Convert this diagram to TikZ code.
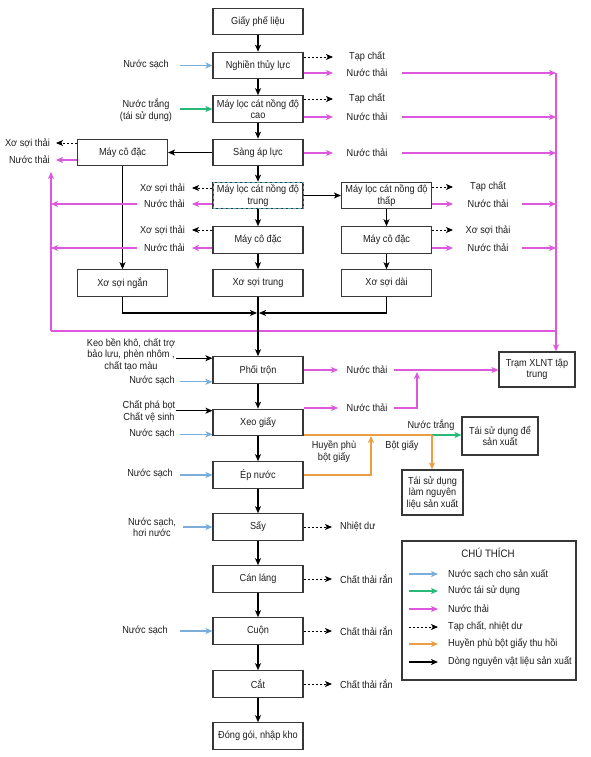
\documentclass[tikz,border=0pt]{standalone}
\usepackage{fontspec}
\setmainfont{Liberation Sans}[FakeStretch=0.9]
\usetikzlibrary{arrows.meta,calc}
\definecolor{cblue}{RGB}{122,174,216}
\definecolor{cgreen}{RGB}{40,185,120}
\definecolor{cpink}{RGB}{222,88,222}
\definecolor{corange}{RGB}{236,158,66}
\definecolor{cbox}{RGB}{55,55,55}
\definecolor{ctxt}{RGB}{30,30,30}
\definecolor{csel}{RGB}{80,170,190}
\begin{document}
\begin{tikzpicture}[x=1pt,y=-1pt,
 font=\fontsize{10.2}{11.5}\selectfont, text=ctxt,
 box/.style={draw=cbox,line width=1.1pt,minimum width=90pt,minimum height=26.5pt,align=center,inner sep=1pt},
 selbox/.style={postaction={draw=csel,densely dashed,line width=0.9pt}},
 lbl/.style={align=center,inner sep=1pt},
 tip/.style={-{Stealth[length=7pt,width=6pt,inset=1.8pt]}},
 blk/.style={tip,line width=1.1pt,black},
 bl/.style={tip,cblue,line width=1.1pt},
 gr/.style={tip,cgreen,line width=1.1pt},
 pk/.style={tip,cpink,line width=1.1pt},
 pkl/.style={cpink,line width=1.1pt},
 og/.style={corange,line width=1.2pt},
 ogt/.style={tip,corange,line width=1.2pt},
 dsh/.style={tip,black,dash pattern=on 2.2pt off 1.8pt,line width=0.9pt},
]
\useasboundingbox (0,0) rectangle (590,757);
\fill[white] (0,0) rectangle (590,757);

% ---------- main boxes ----------
\node[box] (g1) at (258,21.5) {Giấy phế liệu};
\node[box] (g2) at (258,65.5) {Nghiền thủy lực};
\node[box] (g3) at (258,109) {Máy lọc cát nồng độ\\cao};
\node[box] (g4) at (258,152.5) {Sàng áp lực};
\node[box,selbox] (g5) at (258,195.5) {Máy lọc cát nồng độ\\trung};
\node[box] (g6) at (258,240) {Máy cô đặc};
\node[box] (g7) at (258,283) {Xơ sợi trung};
\node[box] (l1) at (122.5,152.5) {Máy cô đặc};
\node[box] (l2) at (122.5,283) {Xơ sợi ngắn};
\node[box] (r1) at (386.5,195.5) {Máy lọc cát nồng độ\\thấp};
\node[box] (r2) at (386.5,240) {Máy cô đặc};
\node[box] (r3) at (386.5,283) {Xơ sợi dài};

\node[box] (m1) at (258,370) {Phối trộn};
\node[box] (m2) at (258,422.5) {Xeo giấy};
\node[box] (m3) at (258,475) {Ép nước};
\node[box] (m4) at (258,527) {Sấy};
\node[box] (m5) at (258,579) {Cán láng};
\node[box] (m6) at (258,631) {Cuộn};
\node[box] (m7) at (258,684) {Cắt};
\node[box] (m8) at (258,736) {Đóng gói, nhập kho};

\node[box,minimum width=76pt,minimum height=35pt] (T) at (537,369.5) {Trạm XLNT tập\\trung};
\node[box,minimum width=76pt,minimum height=38pt] (T2) at (500,436) {Tái sử dụng để\\sản xuất};
\node[box,minimum width=61pt,minimum height=45pt] (T3) at (432.5,492.5) {Tái sử dụng\\làm nguyên\\liệu sản xuất};

% ---------- helper coordinates ----------
\coordinate (lv) at (51,331);
\coordinate (lvtop) at (51,172);
\coordinate (rv) at (556,331);
\coordinate (rvtop) at (556,73);
\coordinate (mg) at (258,313);
\coordinate (ax) at (333,0);
\coordinate (bx) at (402,0);
\coordinate (ax2) at (453,0);
\coordinate (bx2) at (522,0);
\coordinate (ax3) at (338,0);
\coordinate (bx3) at (394,0);
\coordinate (ax4) at (332,0);
\coordinate (lx) at (56,0);
\coordinate (mx) at (192,0);
\coordinate (mx2) at (137,0);
\coordinate (ix) at (180,0);
\coordinate (ix2) at (176,0);
\coordinate (ix3) at (183,0);

% ---------- pink collectors ----------
\draw[pk] (lv) -- (lvtop);
\draw[pkl] (lv) -- (rv);
\draw[pk] (rvtop) -- (rvtop |- T.north);

% ---------- main flow ----------
\foreach \a/\b in {g1/g2,g2/g3,g3/g4,g4/g5,g5/g6,g6/g7,g7/m1,m1/m2,m2/m3,m3/m4,m4/m5,m5/m6,m6/m7,m7/m8}
  \draw[blk] (\a.south) -- (\b.north);
\draw[blk] (g4.west) -- (l1.east);
\draw[blk] (l1.south) -- (l2.north);
\draw[blk] (g5.east) -- (r1.west);
\draw[blk] (r1.south) -- (r2.north);
\draw[blk] (r2.south) -- (r3.north);
\draw[blk] (l2.south) |- ([xshift=-1pt]mg);
\draw[blk] (r3.south) |- ([xshift=1pt]mg);

% ---------- left outputs of l1 ----------
\node[lbl,anchor=east] (lx1) at (51,143) {Xơ sợi thải};
\node[lbl,anchor=east] (ln1) at (51,160) {Nước thải};
\draw[dsh] (l1.west |- lx1) -- (lx |- lx1);
\draw[pk] (l1.west |- ln1) -- (lx |- ln1);

% ---------- left outputs of g5, g6 ----------
\node[lbl,anchor=east] (lx2) at (186,188) {Xơ sợi thải};
\node[lbl,anchor=east] (ln2) at (186,204) {Nước thải};
\draw[dsh] (g5.west |- lx2) -- (mx |- lx2);
\draw[pk] (g5.west |- ln2) -- (mx |- ln2);
\draw[pk] (mx2 |- ln2) -- (ln2 -| lv);
\node[lbl,anchor=east] (lx3) at (186,230) {Xơ sợi thải};
\node[lbl,anchor=east] (ln3) at (186,248) {Nước thải};
\draw[dsh] (g6.west |- lx3) -- (mx |- lx3);
\draw[pk] (g6.west |- ln3) -- (mx |- ln3);
\draw[pk] (mx2 |- ln3) -- (ln3 -| lv);

% ---------- right outputs, upper ----------
\node[lbl] (tc1) at (367,57) {Tạp chất};
\node[lbl] (nt1) at (367,73) {Nước thải};
\draw[dsh] (g2.east |- tc1) -- (ax |- tc1);
\draw[pk] (g2.east |- nt1) -- (ax |- nt1);
\draw[pk] (bx |- nt1) -- (nt1 -| rv);
\node[lbl] (tc2) at (367,99) {Tạp chất};
\node[lbl] (nt2) at (367,117) {Nước thải};
\draw[dsh] (g3.east |- tc2) -- (ax |- tc2);
\draw[pk] (g3.east |- nt2) -- (ax |- nt2);
\draw[pk] (bx |- nt2) -- (nt2 -| rv);
\node[lbl] (nt3) at (367,153) {Nước thải};
\draw[pk] (g4.east |- nt3) -- (ax |- nt3);
\draw[pk] (bx |- nt3) -- (nt3 -| rv);

\node[lbl] (tc4) at (488,187) {Tạp chất};
\node[lbl] (nt4) at (488,204) {Nước thải};
\draw[dsh] (r1.east |- tc4) -- (ax2 |- tc4);
\draw[pk] (r1.east |- nt4) -- (ax2 |- nt4);
\draw[pk] (bx2 |- nt4) -- (nt4 -| rv);
\node[lbl] (tc5) at (488,230) {Xơ sợi thải};
\node[lbl] (nt5) at (488,248) {Nước thải};
\draw[dsh] (r2.east |- tc5) -- (ax2 |- tc5);
\draw[pk] (r2.east |- nt5) -- (ax2 |- nt5);
\draw[pk] (bx2 |- nt5) -- (nt5 -| rv);

% ---------- left inputs ----------
\node[lbl] (in1) at (146,65) {Nước sạch};
\draw[bl] (ix |- g2) -- (g2.west);
\node[lbl] (in2) at (146,110) {Nước trắng\\(tái sử dụng)};
\draw[gr] (ix |- g3) -- (g3.west);

\node[lbl] (keo) at (131,354.5) {Keo bền khô, chất trợ\\bảo lưu, phèn nhôm ,\\chất tạo màu};
\coordinate (m1a) at ([yshift=-2pt]m1.north west);
\draw[blk] (ix2 |- m1a) -- (m1a);
\node[lbl] (in3) at (152,381) {Nước sạch};
\coordinate (m1b) at ([yshift=2pt]m1.south west);
\draw[bl] (ix |- m1b) -- (m1b);

\node[lbl] (cpb) at (149,411.5) {Chất phá bọt\\Chất vệ sinh};
\coordinate (m2a) at ([yshift=-2pt]m2.north west);
\draw[blk] (ix2 |- m2a) -- (m2a);
\node[lbl] (in4) at (152,434) {Nước sạch};
\coordinate (m2b) at ([yshift=2pt]m2.south west);
\draw[bl] (ix |- m2b) -- (m2b);

\node[lbl] (in5) at (150,474) {Nước sạch};
\draw[bl] (ix |- m3) -- (m3.west);
\node[lbl] (in6) at (152,527.5) {Nước sạch,\\hơi nước};
\draw[bl] (ix3 |- m4) -- (m4.west);
\node[lbl] (in7) at (145,631) {Nước sạch};
\draw[bl] (ix |- m6) -- (m6.west);

% ---------- right outputs, lower ----------
\node[lbl] (nt6) at (367,370) {Nước thải};
\draw[pk] (m1.east |- nt6) -- (ax3 |- nt6);
\draw[pk] (bx3 |- nt6) -- (nt6 -| T.west);
\node[lbl] (nt7) at (367,408) {Nước thải};
\coordinate (jn) at (417,372);
\draw[pk] (m2.east |- nt7) -- (ax3 |- nt7);
\draw[pk] (bx3 |- nt7) -| (jn);

\coordinate (os) at (432,435);
\coordinate (oj) at (371,436);
\draw[og] (m2.east |- os) -- (os);
\draw[gr] (os) -- (os -| T2.west);
\draw[ogt] (os) -- (os |- T3.north);
\draw[ogt] (m3.east) -| (oj);
\node[lbl] (nwt) at (431,425) {Nước trắng};
\node[lbl] (hpb) at (334,451.5) {Huyền phù\\bột giấy};
\node[lbl] (bg) at (402,446) {Bột giấy};

\node[lbl,anchor=west] (o4) at (339,527) {Nhiệt dư};
\draw[dsh] (m4.east) -- (m4.east -| ax4);
\node[lbl,anchor=west] (o5) at (339,579) {Chất thải rắn};
\draw[dsh] (m5.east) -- (m5.east -| ax4);
\node[lbl,anchor=west] (o6) at (339,631) {Chất thải rắn};
\draw[dsh] (m6.east) -- (m6.east -| ax4);
\node[lbl,anchor=west] (o7) at (339,684) {Chất thải rắn};
\draw[dsh] (m7.east) -- (m7.east -| ax4);

% ---------- legend ----------
\node[draw=cbox,line width=1.1pt,minimum width=174pt,minimum height=139pt,inner sep=0pt] (leg) at (489,610.5) {};
\node[lbl,font=\fontsize{10.8}{12}\selectfont] (legt) at (488,553) {CHÚ THÍCH};
\foreach \i/\yy/\st/\txt in {1/574/bl/Nước sạch cho sản xuất,2/591/gr/Nước tái sử dụng,3/609/pk/Nước thải,4/627/dsh/{Tạp chất, nhiệt dư},5/644/ogt/Huyền phù bột giấy thu hồi,6/662/blk/Dòng nguyên vật liệu sản xuất}{
  \coordinate (la\i) at (409,\yy);
  \coordinate (lb\i) at (438,\yy);
  \draw[\st] (la\i) -- (lb\i);
  \node[lbl,anchor=west] (lt\i) at (447,\yy) {\txt};
}
\end{tikzpicture}
\end{document}
